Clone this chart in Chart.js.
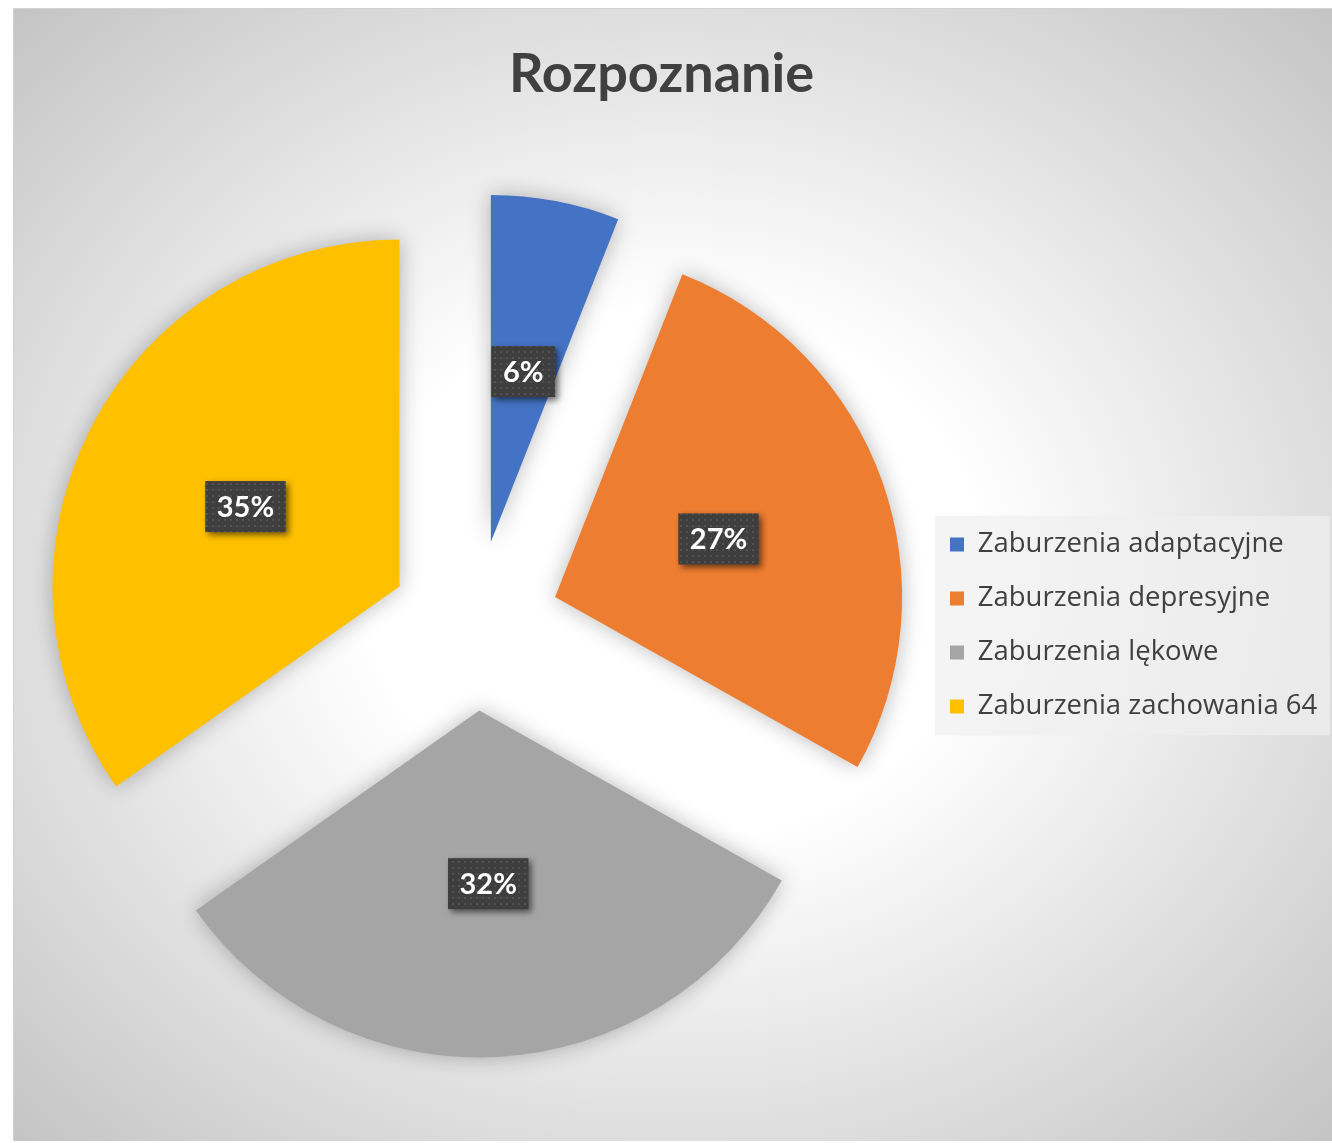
<!DOCTYPE html>
<html>
<head>
<meta charset="utf-8">
<title>Rozpoznanie</title>
<script src="https://cdn.jsdelivr.net/npm/chart.js@4.4.1/dist/chart.umd.min.js"></script>
<style>
  html, body { margin: 0; padding: 0; background: #fff; }
  #bg {
    position: absolute; left: 13px; top: 8px; width: 1319px; height: 1133px;
    background: radial-gradient(ellipse farthest-corner at 50% 50%, #ffffff 0%, #ffffff 33%, #c4c4c4 100%);
    border-top: 1px solid #d2d2d2; border-left: 1px solid #d2d2d2; box-sizing: border-box;
  }
  #wrap { position: absolute; left: 13px; top: 8px; width: 1319px; height: 1133px; }
</style>
</head>
<body>
<div id="bg"></div>
<div id="wrap"><canvas id="pie" width="1319" height="1133"></canvas></div>
<script>
// data
const titleText = 'Rozpoznanie';
const categories = ['Zaburzenia adaptacyjne', 'Zaburzenia depresyjne', 'Zaburzenia lękowe', 'Zaburzenia zachowania 64'];
const counts = [11, 50, 59, 64];
const colors = ['#4472C4', '#ED7D31', '#A5A5A5', '#FFC000'];

// layout / style
const EXPLODE = 85;      // px each slice is pulled out along its bisector
const RADIUS = 347;
const LEG_FONT = 27.5;
const LEG_PAD = 54 - LEG_FONT;
const TXT = '#404040';

// dotted dark fill for the data labels
function dotPattern(ctx) {
  const c = document.createElement('canvas');
  c.width = 6; c.height = 6;
  const p = c.getContext('2d');
  p.fillStyle = '#3e3e3e'; p.fillRect(0, 0, 6, 6);
  p.fillStyle = '#525252'; p.fillRect(1, 1, 2, 2);
  return ctx.createPattern(c, 'repeat');
}

// fixed legend width, and let the long last label run past the legend box
const legendWidth = {
  id: 'legendWidth',
  beforeUpdate(chart) {
    const lg = chart.legend;
    if (!lg || lg._patched) return;
    const fit = lg.fit;
    lg.fit = function () { fit.call(this); this.width = 373; };
    lg.draw = function () { if (this.options.display) this._draw(); };
    lg._patched = true;
  }
};

const legendBox = {
  id: 'legendBox',
  beforeDraw(chart) {
    const lg = chart.legend;
    const hb = lg.legendHitBoxes;
    if (!hb || !hb.length) return;
    const ctx = chart.ctx;
    const top = hb[0].top - 15;
    const bottom = hb[hb.length - 1].top + hb[hb.length - 1].height + 15;
    const left = hb[0].left - 15;
    const right = chart.width - 2;
    ctx.save();
    ctx.fillStyle = 'rgba(240,240,240,0.7)';
    ctx.fillRect(left, top, right - left, bottom - top);
    ctx.restore();
  }
};

const explodedPie = {
  id: 'explodedPie',
  beforeDatasetsDraw(chart) {
    const ctx = chart.ctx;
    const arcs = chart.getDatasetMeta(0).data;
    ctx.save();
    ctx.shadowColor = 'rgba(0,0,0,0.28)';
    ctx.shadowBlur = 22;
    arcs.forEach(arc => {
      const mid = (arc.startAngle + arc.endAngle) / 2;
      ctx.save();
      ctx.translate(Math.cos(mid) * EXPLODE, Math.sin(mid) * EXPLODE);
      arc.draw(ctx);
      ctx.restore();
    });
    ctx.restore();
    return false;
  }
};

const pctLabels = {
  id: 'pctLabels',
  afterDraw(chart) {
    const ctx = chart.ctx;
    const arcs = chart.getDatasetMeta(0).data;
    const total = counts.reduce((a, b) => a + b, 0);
    const pat = dotPattern(ctx);
    ctx.save();
    ctx.font = 'bold 29px Lato';
    ctx.textAlign = 'center';
    ctx.textBaseline = 'middle';
    arcs.forEach((arc, i) => {
      const mid = (arc.startAngle + arc.endAngle) / 2;
      const d = EXPLODE + arc.outerRadius * 0.5;
      const x = arc.x + Math.cos(mid) * d;
      const y = arc.y + Math.sin(mid) * d;
      const txt = Math.round(counts[i] / total * 100) + '%';
      const w = ctx.measureText(txt).width + 23, h = 51;
      ctx.save();
      ctx.shadowColor = 'rgba(0,0,0,0.55)';
      ctx.shadowBlur = 6;
      ctx.shadowOffsetX = 3;
      ctx.shadowOffsetY = 3;
      ctx.fillStyle = pat;
      ctx.fillRect(x - w / 2, y - h / 2, w, h);
      ctx.restore();
      ctx.fillStyle = '#ffffff';
      ctx.fillText(txt, x, y + 1);
    });
    ctx.restore();
  }
};

new Chart(document.getElementById('pie'), {
  type: 'pie',
  data: {
    labels: categories,
    datasets: [{
      data: counts,
      backgroundColor: colors,
      borderWidth: 0
    }]
  },
  options: {
    responsive: false,
    devicePixelRatio: 1,
    animation: false,
    radius: RADIUS,
    layout: { padding: { left: LEG_PAD - 13, right: LEG_PAD + 9, top: 0, bottom: 0 } },
    plugins: {
      title: {
        display: true,
        text: titleText,
        color: TXT,
        font: { family: 'Lato', size: 54, weight: 'bold' },
        padding: { top: 34, bottom: 3.2 }
      },
      legend: {
        position: 'right',
        fullSize: false,
        labels: {
          boxWidth: 14,
          boxHeight: 14,
          padding: LEG_PAD,
          color: TXT,
          font: { family: 'Open Sans', size: LEG_FONT }
        }
      },
      tooltip: { enabled: false }
    }
  },
  plugins: [legendWidth, legendBox, explodedPie, pctLabels]
});
</script>
</body>
</html>
